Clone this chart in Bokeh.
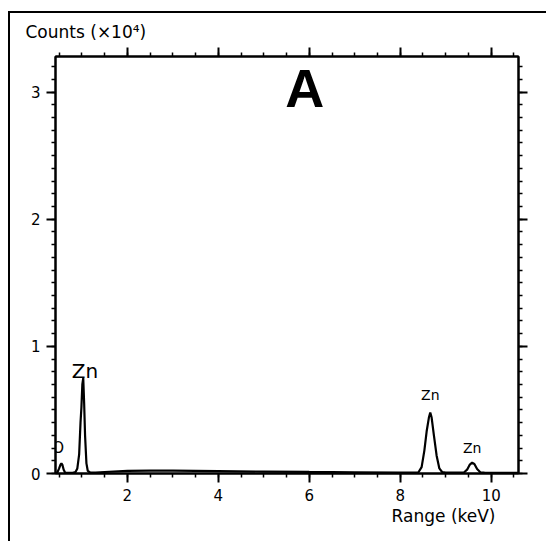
from bokeh.plotting import figure
from bokeh.models import LinearAxis, FixedTicker, Label, Range1d, Title
from bokeh.embed import file_html
from bokeh.resources import INLINE

# Spectrum: energy (keV) and counts (x10^4)
energy = [0.42, 0.46, 0.50, 0.53, 0.55, 0.57, 0.60, 0.63, 0.70, 0.80, 0.86, 0.90,
          0.94, 0.97, 0.99, 1.01, 1.03, 1.05, 1.07, 1.10, 1.13, 1.18, 1.30, 1.50,
          2.00, 2.50, 3.00, 3.50, 4.00, 5.00, 6.00, 7.00, 8.00, 8.40, 8.47, 8.53,
          8.58, 8.63, 8.66, 8.69, 8.74, 8.80, 8.86, 8.92, 9.00, 9.40, 9.47, 9.53,
          9.58, 9.63, 9.69, 9.76, 9.85, 10.20, 10.60]
counts = [0.005, 0.008, 0.04, 0.07, 0.08, 0.07, 0.03, 0.008, 0.005, 0.005, 0.012, 0.04,
          0.15, 0.40, 0.52, 0.70, 0.75, 0.55, 0.30, 0.08, 0.02, 0.008, 0.008, 0.012,
          0.020, 0.022, 0.022, 0.020, 0.018, 0.015, 0.012, 0.010, 0.008, 0.010, 0.05, 0.18,
          0.33, 0.44, 0.48, 0.44, 0.30, 0.14, 0.04, 0.012, 0.008, 0.008, 0.03, 0.07,
          0.085, 0.075, 0.035, 0.01, 0.007, 0.006, 0.005]

x_major = [2, 4, 6, 8, 10]
x_minor = [0.5, 1, 1.5, 2, 2.5, 3, 3.5, 4, 4.5, 5, 5.5, 6, 6.5, 7, 7.5, 8, 8.5, 9, 9.5, 10, 10.5]
y_major = [0, 1, 2, 3]
y_minor = [round(0.1 * i, 1) for i in range(0, 33)]

peak_labels = ["O", "Zn", "Zn", "Zn"]
peak_x = [0.48, 1.07, 8.66, 9.58]
peak_y = [0.20, 0.81, 0.62, 0.20]
peak_size = ["15px", "20px", "14px", "14px"]

FONT = "DejaVu Sans"

p = figure(width=538, height=530, x_range=Range1d(0.42, 10.6), y_range=Range1d(0, 3.28),
           output_backend="svg", toolbar_location=None,
           min_border_left=45, min_border_right=30, min_border_top=43, min_border_bottom=70,
           x_axis_location=None, y_axis_location=None)
p.styles = {"border-left": "2px solid black", "border-top": "2px solid black",
            "margin-left": "8px", "margin-top": "11px"}
p.grid.visible = False
p.outline_line_color = "black"
p.outline_line_width = 2
p.background_fill_color = "white"
p.border_fill_color = "white"

def make_axis(ticks, minors, show_labels):
    ax = LinearAxis(ticker=FixedTicker(ticks=ticks, minor_ticks=minors))
    ax.axis_line_width = 2
    ax.major_tick_line_width = 2
    ax.minor_tick_line_width = 1.5
    ax.major_tick_out = 9
    ax.major_tick_in = 0
    ax.minor_tick_out = 4
    ax.minor_tick_in = 0
    ax.major_label_text_font = FONT
    ax.major_label_text_color = "black"
    if show_labels:
        ax.major_label_text_font_size = "15px"
        ax.major_label_standoff = 6
    else:
        ax.major_label_overrides = {t: "" for t in ticks}
        ax.major_label_text_font_size = "1px"
        ax.major_label_standoff = 0
    return ax

p.add_layout(make_axis(x_major, x_minor, True), "below")
p.add_layout(make_axis(x_major, x_minor, False), "above")
p.add_layout(make_axis(y_major, y_minor, True), "left")
p.add_layout(make_axis(y_major, y_minor, False), "right")

p.line(energy, counts, line_color="black", line_width=2.2)

for t, x, y, s in zip(peak_labels, peak_x, peak_y, peak_size):
    p.add_layout(Label(x=x, y=y, text=t, text_font=FONT, text_font_size=s,
                       text_align="center", text_baseline="middle", text_color="black"))

p.add_layout(Label(x=5.9, y=3.03, text="A", text_font="Liberation Sans", text_font_style="bold",
                   text_font_size="54px", text_align="center", text_baseline="middle",
                   text_color="black"))

p.add_layout(Title(text="Counts (\u00d710\u2074)", align="left", offset=-30,
                   text_font=FONT, text_font_size="17px", text_font_style="normal",
                   text_color="black", standoff=12), "above")
p.add_layout(Title(text="Range (keV)", align="right", offset=23,
                   text_font=FONT, text_font_size="17px", text_font_style="normal",
                   text_color="black", standoff=0), "below")

open("out.html", "w").write(file_html(p, INLINE))
